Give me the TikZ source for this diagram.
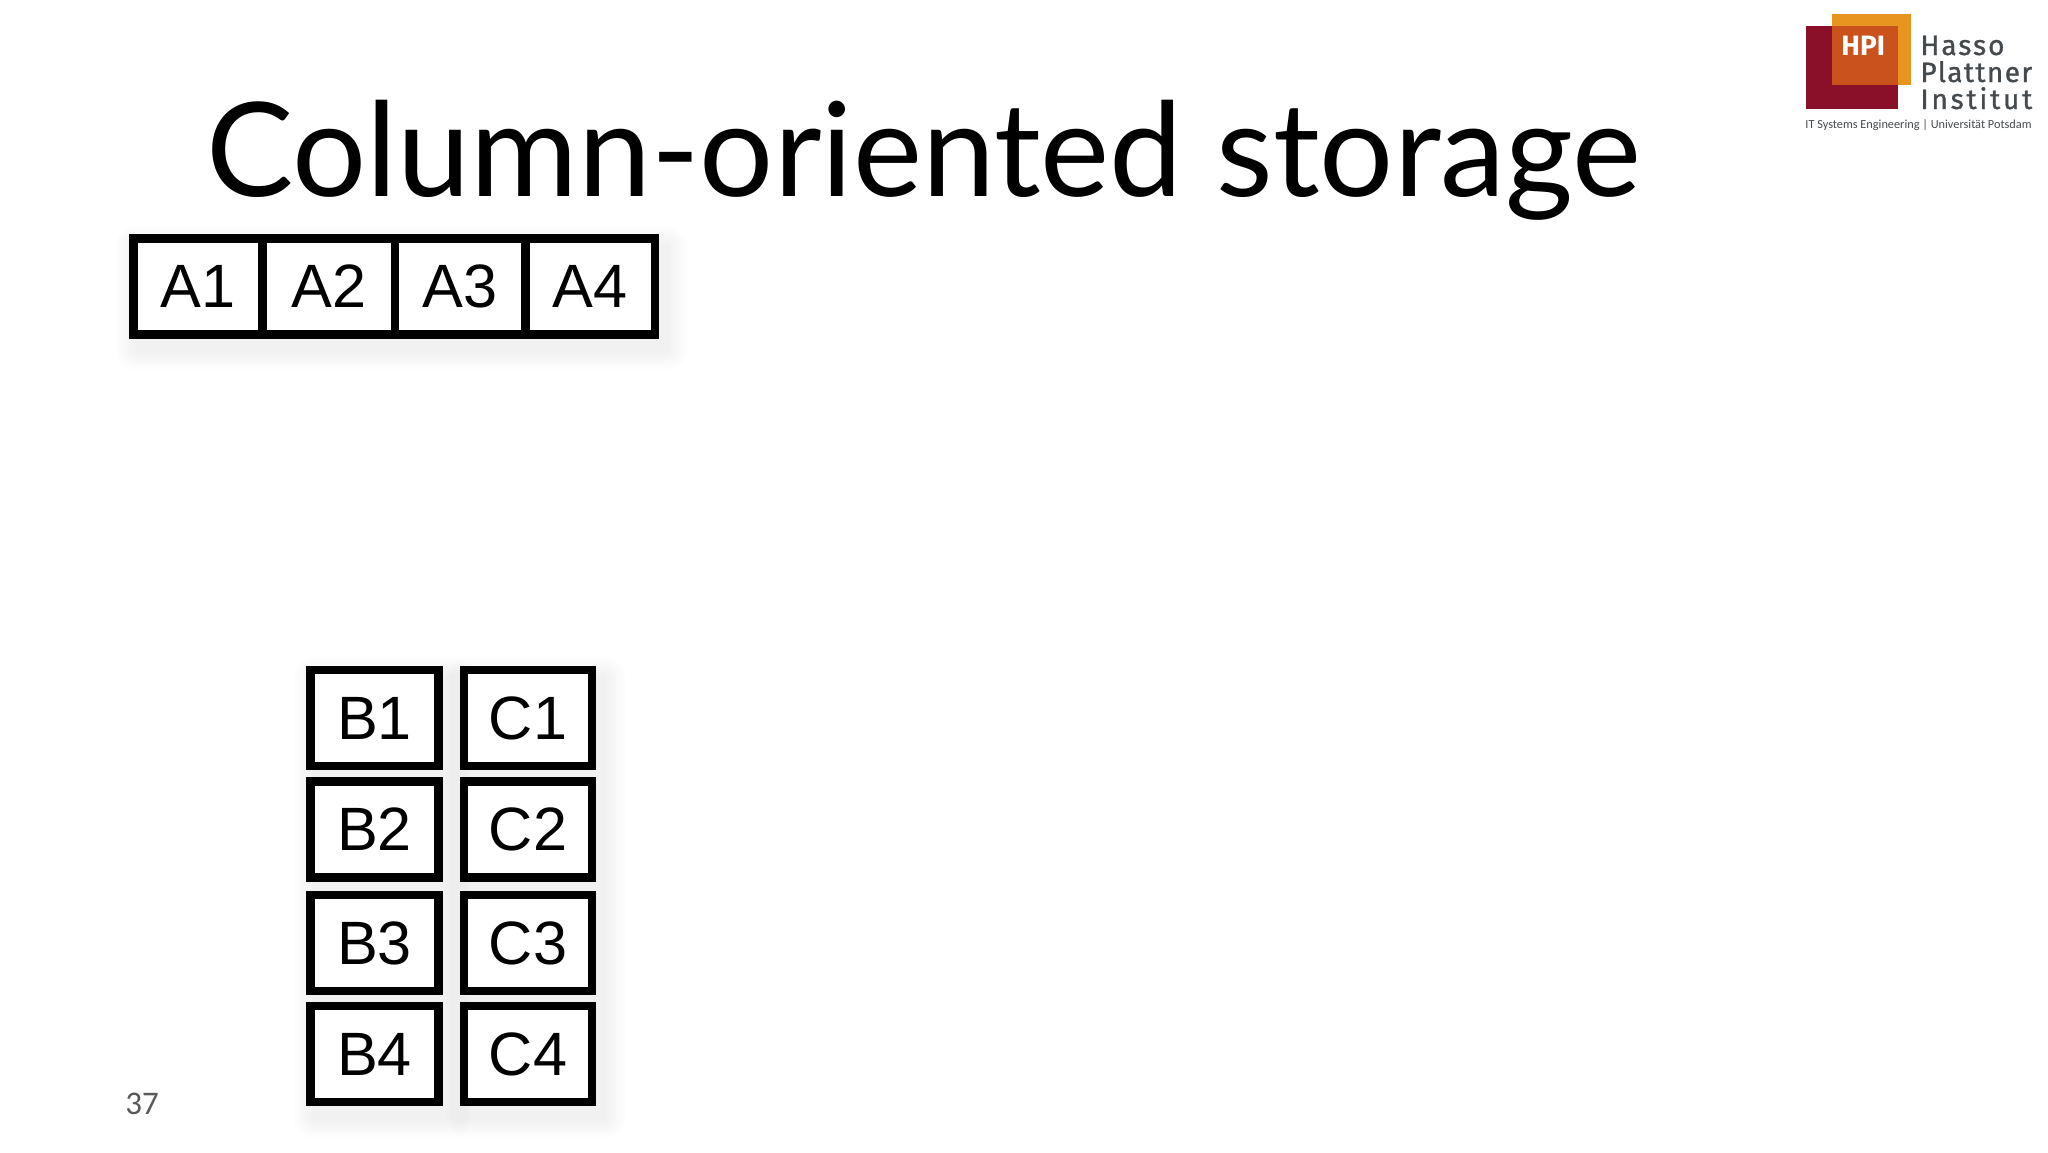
\documentclass[tikz,border=0pt]{standalone}
\usepackage{fontspec}
\setmainfont{Liberation Sans}
\newfontfamily\titlefont{Lato}
\newfontfamily\logofont[FakeBold=1]{Fira Sans}
\newfontfamily\logobold{Fira Sans}
\newfontfamily\capfont{Carlito}
\definecolor{hpired}{HTML}{8A1029}
\definecolor{hpiorange}{HTML}{E8951F}
\definecolor{hpimix}{HTML}{C9521D}
\definecolor{hpigray}{HTML}{454A4E}
\newcommand{\softshadow}[4]{%
  \foreach \g in {20,17,14,11,8,5,2}{%
    \fill[black,opacity=0.006,rounded corners=\g*0.5pt] (#1+8-\g,#2+12-\g) rectangle (#3+8+\g,#4+12+\g);
  }}
\tikzset{
  x=0.5pt,y=-0.5pt,
  cell/.style={rectangle,draw=black,fill=white,line width=4.4pt,inner sep=0pt,outer sep=0pt,
    minimum height=48pt,font=\fontsize{30.6}{32}\selectfont,text=black},
  awide/.style={cell,minimum width=#1},
  colcell/.style={cell,minimum width=64pt},
  logotext/.style={anchor=base west,inner sep=0pt,text=hpigray,font=\logofont\fontsize{14}{15}\selectfont\addfontfeatures{LetterSpace=#1}},
}
\begin{document}
\begin{tikzpicture}
\useasboundingbox[fill=white] (0,0) rectangle (2048,1152);
% soft shadows
\softshadow{128}{234}{659}{338}
\softshadow{306}{665}{443}{1106}
\softshadow{459}{665}{597}{1106}
% title
\node[anchor=base west,inner sep=0pt,font=\titlefont\fontsize{65.4}{70}\selectfont,text=black] (title) at (206,196) {Column-oriented storage};
% row A
\node[awide=64.75pt] (a1) at (198,286.5) {A1};
\node[awide=66pt] (a2) at (329,286.5) {A2};
\node[awide=65.25pt] (a3) at (460.25,286.5) {A3};
\node[awide=64.75pt] (a4) at (590.25,286.5) {A4};
% columns B, C
\node[colcell] (b1) at (374.5,718) {B1};
\node[colcell] (c1) at (528,718) {C1};
\node[colcell] (b2) at (374.5,829.5) {B2};
\node[colcell] (c2) at (528,829.5) {C2};
\node[colcell] (b3) at (374.5,943) {B3};
\node[colcell] (c3) at (528,943) {C3};
\node[colcell] (b4) at (374.5,1054) {B4};
\node[colcell] (c4) at (528,1054) {C4};
% page number
\node[anchor=base west,inner sep=0pt,font=\capfont\fontsize{16.5}{18}\selectfont,text=black!65] (pagenum) at (125,1114) {37};
% logo
\fill[hpired] (1806,26) rectangle (1898,109);
\fill[hpiorange] (1832,14) rectangle (1911,85);
\fill[hpimix] (1832,26) rectangle (1898,85);
\node[anchor=base west,inner sep=0pt,text=white,font=\logobold\bfseries\fontsize{14}{15}\selectfont] (hpi) at (1841,55) {HPI};
\node[logotext=7] (hasso) at (1920,55) {Hasso};
\node[logotext=5] (plattner) at (1920,82) {Plattner};
\node[logotext=10] (institut) at (1920,109) {Institut};
\node[anchor=base west,inner sep=0pt,text=hpigray,font=\capfont\fontsize{6.15}{7}\selectfont] (hpicap) at (1805,128) {IT Systems Engineering | Universität Potsdam};
\end{tikzpicture}
\end{document}
